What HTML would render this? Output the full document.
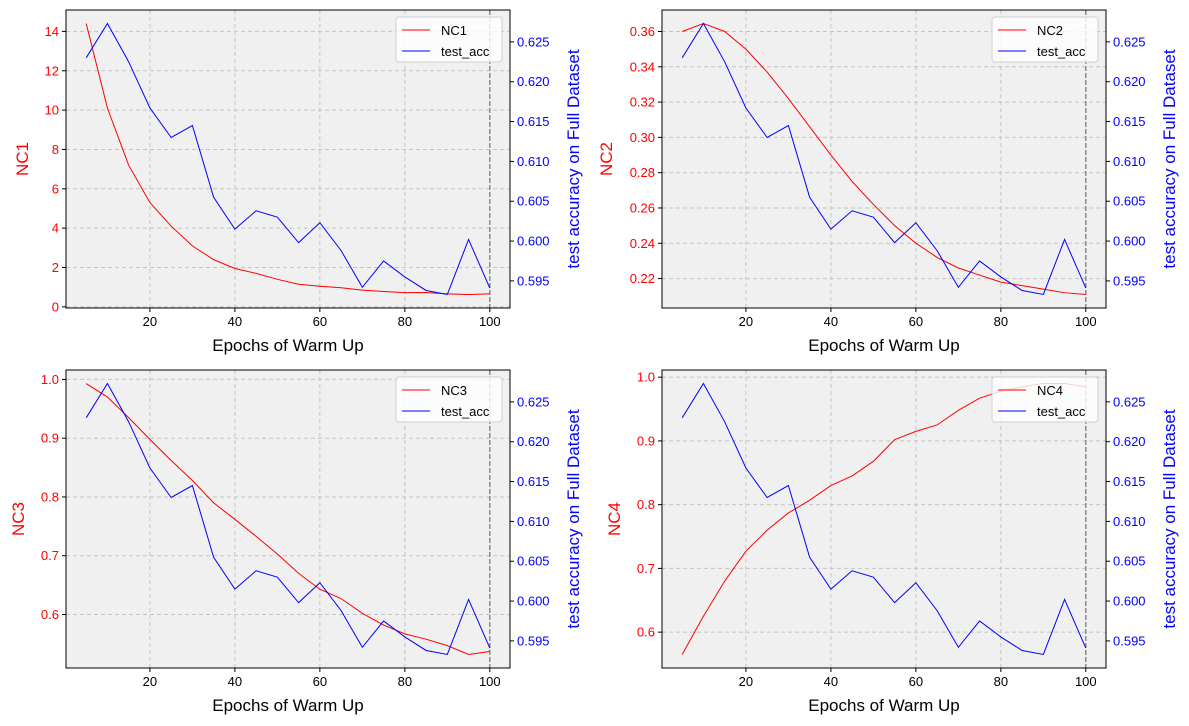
<!DOCTYPE html>
<html><head><meta charset="utf-8"><style>
body{margin:0;background:#fff;}
svg{display:block;font-family:"Liberation Sans","DejaVu Sans",sans-serif;}
</style></head><body>
<svg id="chart" width="1189" height="726" xmlns="http://www.w3.org/2000/svg"></svg>
<script>
const epochs=[5,10,15,20,25,30,35,40,45,50,55,60,65,70,75,80,85,90,95,100];
const testAcc=[0.623,0.6273,0.6225,0.6167,0.613,0.6145,0.6055,0.6015,0.6038,0.603,0.5998,0.6023,0.5988,0.5942,0.5975,0.5955,0.5938,0.5933,0.6002,0.5941];
const nc1=[14.4,10.1,7.2,5.3,4.1,3.1,2.4,1.95,1.7,1.4,1.15,1.05,0.97,0.85,0.78,0.72,0.73,0.66,0.63,0.66];
const nc2=[0.360,0.3645,0.360,0.350,0.337,0.322,0.306,0.290,0.275,0.262,0.250,0.240,0.232,0.226,0.222,0.218,0.216,0.214,0.212,0.211];
const nc3=[0.993,0.97,0.935,0.898,0.862,0.828,0.79,0.762,0.733,0.703,0.670,0.643,0.627,0.602,0.582,0.567,0.558,0.547,0.532,0.537];
const nc4=[0.565,0.625,0.680,0.727,0.760,0.787,0.807,0.830,0.845,0.868,0.902,0.915,0.925,0.948,0.967,0.978,0.985,0.990,0.990,0.985];
const xTicks=[20,40,60,80,100];
const accTicks=[0.595,0.600,0.605,0.610,0.615,0.620,0.625];
const nc1Ticks=[0,2,4,6,8,10,12,14];
const nc2Ticks=[0.22,0.24,0.26,0.28,0.30,0.32,0.34,0.36];
const nc3Ticks=[0.6,0.7,0.8,0.9,1.0];
const nc4Ticks=[0.6,0.7,0.8,0.9,1.0];
const panels=[
 {name:'NC1',vals:nc1,ticks:nc1Ticks,fmt:v=>String(v),x:66,y:10},
 {name:'NC2',vals:nc2,ticks:nc2Ticks,fmt:v=>v.toFixed(2),x:662,y:10},
 {name:'NC3',vals:nc3,ticks:nc3Ticks,fmt:v=>v.toFixed(1),x:66,y:370},
 {name:'NC4',vals:nc4,ticks:nc4Ticks,fmt:v=>v.toFixed(1),x:662,y:370}
];
const W=444,H=298;
const svg=document.getElementById('chart');
const NS='http://www.w3.org/2000/svg';
function mk(tag,attrs,parent,text){const e=document.createElementNS(NS,tag);for(const k in attrs)e.setAttribute(k,attrs[k]);if(text!==undefined)e.textContent=text;(parent||svg).appendChild(e);return e;}
function dom(a){const mn=Math.min(...a),mx=Math.max(...a),m=(mx-mn)*0.05;return [mn-m,mx+m];}
panels.forEach(p=>{
 const g=mk('g',{});
 
 
 const xd=dom(epochs),yd=dom(p.vals),ad=dom(testAcc);
 const sx=v=>p.x+(v-xd[0])/(xd[1]-xd[0])*W;
 const sy=v=>p.y+H-(v-yd[0])/(yd[1]-yd[0])*H;
 const sa=v=>p.y+H-(v-ad[0])/(ad[1]-ad[0])*H;
 const bg=mk('rect',{x:p.x,y:p.y,width:W,height:H,fill:'#f0f0f0'},g);
 
 xTicks.forEach(t=>{const X=sx(t);
  mk('line',{x1:X,x2:X,y1:p.y,y2:p.y+H,stroke:'#c4c4c4','stroke-dasharray':'4,3','stroke-width':1},g);
  mk('line',{x1:X,x2:X,y1:p.y+H,y2:p.y+H+4,stroke:'#000'},g);
  const tl=mk('text',{x:X,y:p.y+H+18,'font-size':13,'text-anchor':'middle'},g,String(t));
  
 });
 p.ticks.forEach(t=>{const Y=sy(t);
  mk('line',{x1:p.x,x2:p.x+W,y1:Y,y2:Y,stroke:'#c4c4c4','stroke-dasharray':'4,3','stroke-width':1},g);
  mk('line',{x1:p.x-4,x2:p.x,y1:Y,y2:Y,stroke:'#000'},g);
  const tl=mk('text',{x:p.x-7,y:Y+4.5,'font-size':13,'text-anchor':'end',fill:'red'},g,p.fmt(t));
  
 });
 accTicks.forEach(t=>{const Y=sa(t);
  mk('line',{x1:p.x+W,x2:p.x+W+4,y1:Y,y2:Y,stroke:'#000'},g);
  const tl=mk('text',{x:p.x+W+7,y:Y+4.5,'font-size':13,fill:'blue'},g,t.toFixed(3));
  
 });
 const vl=mk('line',{x1:sx(100),x2:sx(100),y1:p.y,y2:p.y+H,stroke:'#777','stroke-dasharray':'5,2','stroke-width':1.2},g);
 
 const l1=mk('polyline',{points:epochs.map((e,i)=>sx(e)+','+sy(p.vals[i])).join(' '),fill:'none',stroke:'red','stroke-width':1},g);
 
 const l2=mk('polyline',{points:epochs.map((e,i)=>sx(e)+','+sa(testAcc[i])).join(' '),fill:'none',stroke:'blue','stroke-width':1},g);
 
 mk('rect',{x:p.x,y:p.y,width:W,height:H,fill:'none',stroke:'#000','stroke-width':1},g);
 const xl=mk('text',{x:p.x+W/2,y:p.y+H+43,'font-size':17,'text-anchor':'middle'},g,'Epochs of Warm Up');
 
 const lx=p.x-(p.name==='NC1'?38:(p.name==='NC2'?50:42));
 const yl=mk('text',{x:lx,y:p.y+H/2,'font-size':17,'text-anchor':'middle',fill:'red',transform:`rotate(-90 ${lx} ${p.y+H/2})`},g,p.name);
 
 const rx=p.x+W+69;
 const rl=mk('text',{x:rx,y:p.y+H/2,'font-size':17,'text-anchor':'middle',fill:'blue',transform:`rotate(-90 ${rx} ${p.y+H/2})`},g,'test accuracy on Full Dataset');
 
 const lg=mk('g',{},g);
 
 const bx=p.x+W-114,by=p.y+7;
 mk('rect',{x:bx,y:by,width:106,height:45,rx:3,fill:'#fff','fill-opacity':0.8,stroke:'#d0d0d0'},lg);
 mk('line',{x1:bx+6,x2:bx+34,y1:by+13,y2:by+13,stroke:'red','stroke-width':1},lg);
 mk('text',{x:bx+45,y:by+18,'font-size':13},lg,p.name);
 mk('line',{x1:bx+6,x2:bx+34,y1:by+34,y2:by+34,stroke:'blue','stroke-width':1},lg);
 mk('text',{x:bx+45,y:by+39,'font-size':13},lg,'test_acc');
});
</script>
</body></html>
